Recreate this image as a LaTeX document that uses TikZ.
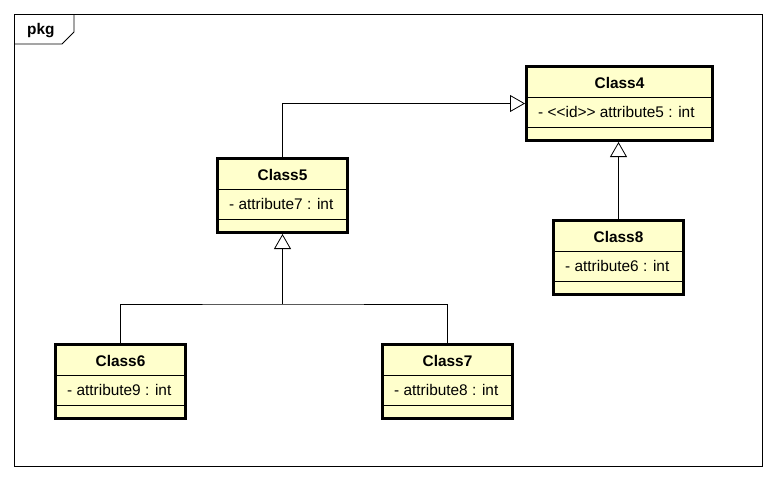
\documentclass[tikz,border=0pt]{standalone}
\usepackage{fontspec}
\setmainfont{Liberation Sans}
\usetikzlibrary{calc,arrows.meta}
\definecolor{classfill}{HTML}{FFFFCC}
\tikzset{
  umlclass/.style={draw, line width=3pt, fill=classfill, minimum height=74pt, inner sep=0pt, anchor=north west},
  classname/.style={font=\bfseries\fontsize{15.4}{18}\selectfont},
  attrtext/.style={font=\fontsize{15.4}{18}\selectfont, anchor=west, inner sep=0pt},
  compartment/.style={line width=0.8pt},
  frameline/.style={line width=0.8pt},
  inherit/.style={-{Triangle[open, length=15pt, width=17pt]}, line width=0.8pt},
}

\begin{document}
\begin{tikzpicture}[x=1pt, y=-1pt]
  \fill[white] (0,0) rectangle (774,480);
  \draw[frameline] (14,14) rectangle (762,466);
  \draw[frameline] (14,44) -- (62,44) -- (74,32) -- (74,14);
  \node[classname, anchor=base west, inner sep=0pt] (pkglabel) at (27,34) {pkg};

  \foreach \cls/\title/\x/\y/\w/\attr in {
      class4/Class4/525/65/189/{- <\kern0pt<id>\kern0pt> attribute5 : int},
      class5/Class5/216/157/133/{- attribute7 : int},
      class6/Class6/54/343/133/{- attribute9 : int},
      class7/Class7/381/343/133/{- attribute8 : int},
      class8/Class8/552/219/133/{- attribute6 : int}}{
    \node[umlclass, minimum width=\w-3] (\cls) at (\x,\y) {};
    \node[classname] (\cls name) at ($(\cls.north)+(0,17.5)$) {\title};
    \draw[compartment] ($(\cls.north west)+(0,32)$) -- ($(\cls.north east)+(0,32)$);
    \draw[compartment] ($(\cls.north west)+(0,62)$) -- ($(\cls.north east)+(0,62)$);
    \node[attrtext] (\cls attr) at ($(\cls.north west)+(13,47)$) {\attr};
  }

  \coordinate (join) at ($(class5.south)+(0,70)$);
  \draw[inherit] (class5.north) |- (class4.west);
  \draw[frameline] (class6.north) |- (join) -| (class7.north);
  \draw[inherit] (join) -- (class5.south);
  \draw[inherit] (class8.north) -- (class8.north |- class4.south);
\end{tikzpicture}
\end{document}
